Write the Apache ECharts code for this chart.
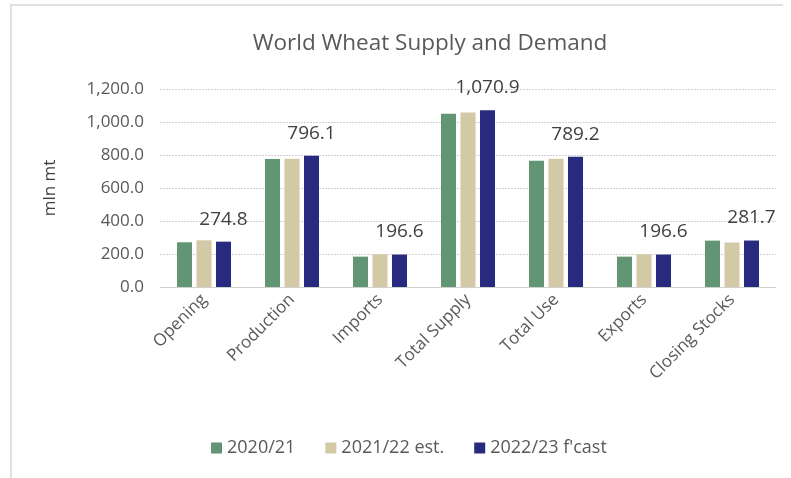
<!DOCTYPE html>
<html>
<head>
<meta charset="utf-8">
<script src="https://cdn.jsdelivr.net/npm/echarts@6/dist/echarts.min.js"></script>
<style>
  html, body { margin: 0; padding: 0; background: #fff; }
  #frame { position: absolute; left: 10px; top: 4px; width: 771px; height: 474px;
           border-left: 2px solid #e0e0e0; border-top: 2px solid #e0e0e0; }
  #chart { position: absolute; left: 0; top: 0; width: 791px; height: 478px; }
</style>
</head>
<body>
<div id="frame"></div>
<div id="chart"></div>
<script>
// categories and series
const categories = ['Opening', 'Production', 'Imports', 'Total Supply', 'Total Use', 'Exports', 'Closing Stocks'];
const seriesNames = ['2020/21', '2021/22 est.', "2022/23 f'cast"];
const vals2020 = [271, 776, 184, 1050, 765, 184, 281];
const vals2021 = [283, 778, 198, 1058, 777, 198, 270];
const vals2022 = [274.8, 796.1, 196.6, 1070.9, 789.2, 196.6, 281.7];
const colors = ['#619574', '#d3c9a6', '#282a7f'];

const font = 'Open Sans';
const grey = '#595959';

function fmt(v) {
  return v.toLocaleString('en-US', { minimumFractionDigits: 1, maximumFractionDigits: 1 });
}

function makeSeries(name, data, color, withLabel) {
  return {
    name: name,
    type: 'bar',
    data: data,
    barWidth: 15,
    barGap: '30%',
    itemStyle: { color: color },
    label: {
      show: withLabel,
      position: 'top',
      distance: 13,
      color: '#404040',
      fontFamily: font,
      fontSize: 19,
      formatter: p => fmt(p.value)
    }
  }
}

const chart = echarts.init(document.getElementById('chart'));
chart.setOption({
  animation: false,
  textStyle: { fontFamily: font },
  title: {
    text: 'World Wheat Supply and Demand',
    left: 425,
    textAlign: 'center',
    top: 27,
    textStyle: { color: grey, fontSize: 22.5, fontWeight: 'normal', fontFamily: font }
  },
  legend: {
    top: 434,
    left: 206,
    itemWidth: 11,
    itemHeight: 11,
    itemGap: 30,
    icon: 'rect',
    textStyle: { color: grey, fontSize: 18, fontFamily: font }
  },
  grid: { left: 160, right: 15, top: 89, bottom: 191 },
  xAxis: {
    type: 'category',
    data: categories,
    axisLine: { lineStyle: { color: '#d0d0d0' } },
    axisTick: { show: false },
    axisLabel: { rotate: 45, color: grey, fontSize: 17, fontFamily: font, margin: 10, interval: 0 }
  },
  yAxis: {
    type: 'value',
    min: 0,
    max: 1200,
    interval: 200,
    name: 'mln mt',
    nameLocation: 'middle',
    nameGap: 101,
    nameTextStyle: { color: '#404040', fontSize: 17, fontFamily: font },
    axisLabel: { color: grey, fontSize: 17, fontFamily: font, margin: 16, formatter: fmt },
    splitLine: { lineStyle: { color: '#d0d0d0', type: [2, 1] } }
  },
  series: [
    makeSeries(seriesNames[0], vals2020, colors[0], false),
    makeSeries(seriesNames[1], vals2021, colors[1], false),
    makeSeries(seriesNames[2], vals2022, colors[2], true)
  ]
});
</script>
</body>
</html>
